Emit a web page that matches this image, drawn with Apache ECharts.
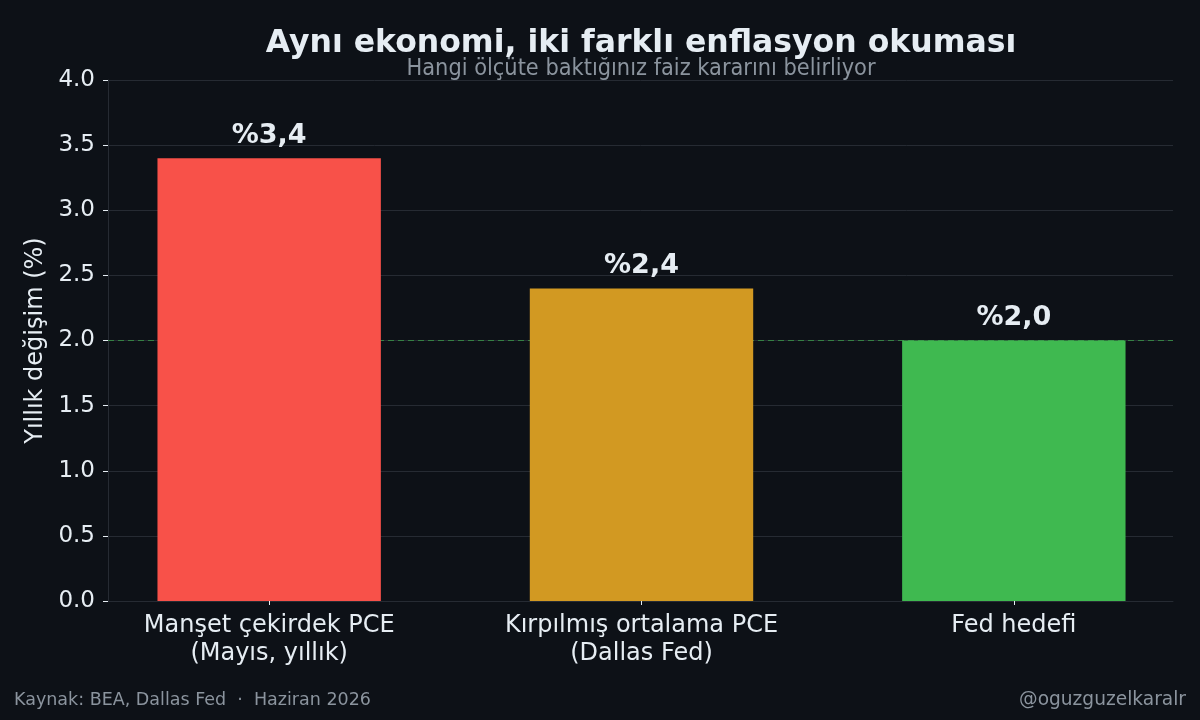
<!DOCTYPE html>
<html>
<head>
<meta charset="utf-8">
<script src="https://cdn.jsdelivr.net/npm/echarts@6/dist/echarts.min.js"></script>
<style>
  html, body { margin: 0; padding: 0; background: #0d1117; }
  #chart { width: 1200px; height: 720px; }
</style>
</head>
<body>
<div id="chart"></div>
<script>
// data
var categories = ['Manşet çekirdek PCE\n(Mayıs, yıllık)', 'Kırpılmış ortalama PCE\n(Dallas Fed)', 'Fed hedefi'];
var values = [3.4, 2.4, 2.0];
var barColors = ['#f85149', '#d29922', '#3fb950'];
var targetValue = 2.0;

window.addEventListener('load', function () {
  var myChart = echarts.init(document.getElementById('chart'));
  var font = 'DejaVu Sans';
  var gridColor = '#262b33';

  var option = {
    backgroundColor: '#0d1117',
    animation: false,
    title: [
      {
        text: 'Aynı ekonomi, iki farklı enflasyon okuması',
        left: 641, top: 28, textAlign: 'center', padding: 0,
        textStyle: { color: '#e6edf3', fontFamily: font, fontWeight: 'bold', fontSize: 31.5 }
      },
      {
        text: 'Hangi ölçüte baktığınız faiz kararını belirliyor',
        left: 641, top: 57, textAlign: 'center', padding: 0,
        textStyle: { color: '#8b949e', fontFamily: 'DejaVu Sans Condensed, DejaVu Sans', fontWeight: 'normal', fontSize: 23.3 }
      },
      {
        text: 'Kaynak: BEA, Dallas Fed  ·  Haziran 2026',
        left: 14, top: 691, padding: 0,
        textStyle: { color: '#8b949e', fontFamily: font, fontWeight: 'normal', fontSize: 17.5 }
      },
      {
        text: '@oguzguzelkaralr',
        right: 14, top: 691, padding: 0,
        textStyle: { color: '#8b949e', fontFamily: font, fontWeight: 'normal', fontSize: 18.6 }
      }
    ],
    grid: [
      { left: 108, right: 27, top: 80, bottom: 119 },
      { left: 83, right: -1, top: 80, bottom: 119 }
    ],
    xAxis: [
      {
        gridIndex: 0, type: 'value', min: 0, max: 1,
        axisLine: { show: true, lineStyle: { color: gridColor } },
        axisTick: { show: false }, axisLabel: { show: false }, splitLine: { show: false }
      },
      {
        gridIndex: 1, type: 'category', data: categories,
        axisLine: { show: false },
        axisTick: { show: true, alignWithLabel: true, length: 4, lineStyle: { color: '#e6edf3' } },
        axisLabel: { color: '#e6edf3', fontFamily: font, fontSize: 24, lineHeight: 28, margin: 11 }
      }
    ],
    yAxis: [
      {
        gridIndex: 0, type: 'value', min: 0, max: 4, interval: 0.5,
        name: 'Yıllık değişim (%)', nameLocation: 'middle', nameGap: 60,
        nameTextStyle: { color: '#e6edf3', fontFamily: font, fontSize: 24 },
        axisLine: { show: true, lineStyle: { color: gridColor } },
        axisTick: { show: true, length: 5, lineStyle: { color: '#e6edf3' } },
        axisLabel: {
          color: '#e6edf3', fontFamily: font, fontSize: 23, margin: 13, padding: [4, 0, 0, 0],
          formatter: function (v) { return v.toFixed(1); }
        },
        splitLine: { show: true, lineStyle: { color: gridColor, width: 1 } }
      },
      {
        gridIndex: 1, type: 'value', min: 0, max: 4, show: false
      }
    ],
    series: [
      {
        type: 'line', xAxisIndex: 0, yAxisIndex: 0,
        data: [[0, targetValue], [1, targetValue]],
        symbol: 'none', silent: true, z: 1,
        lineStyle: { color: '#3fb950', type: [6, 4], width: 1, opacity: 0.6 }
      },
      {
        type: 'bar', xAxisIndex: 1, yAxisIndex: 1, barWidth: '60%', z: 2,
        data: values.map(function (v, i) {
          return { value: v, itemStyle: { color: barColors[i] } };
        }),
        label: {
          show: true, position: 'top', distance: 9,
          color: '#e6edf3', fontFamily: font, fontWeight: 'bold', fontSize: 27,
          formatter: function (p) { return '%' + p.value.toFixed(1).replace('.', ','); }
        }
      }
    ]
  };

  myChart.setOption(option);
});
</script>
</body>
</html>
